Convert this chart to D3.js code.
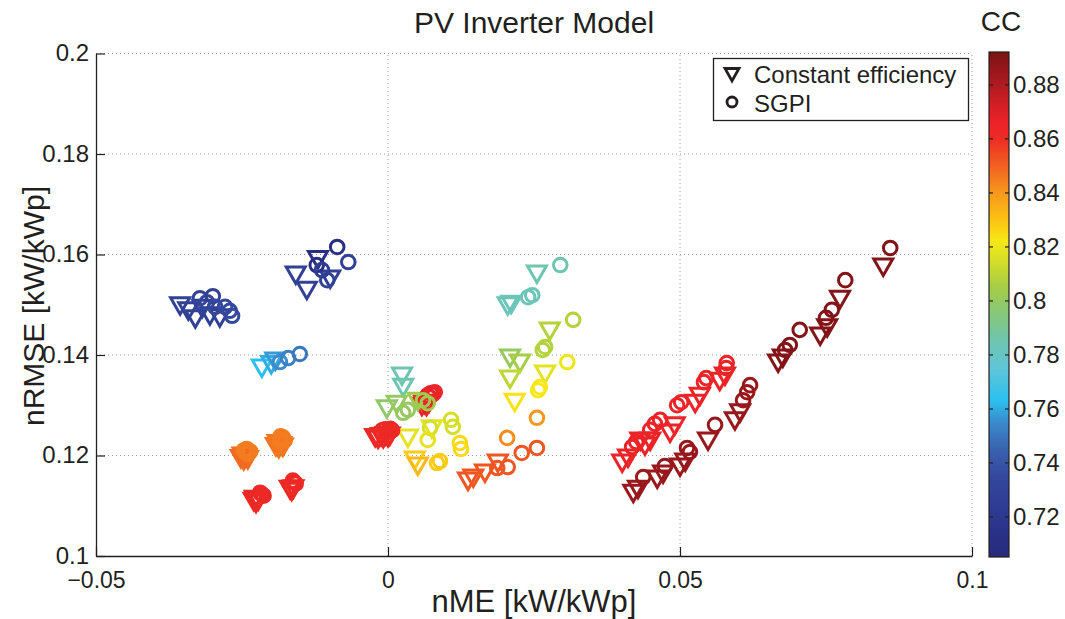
<!DOCTYPE html>
<html><head><meta charset="utf-8">
<script src="https://cdn.jsdelivr.net/npm/d3@7"></script>
<style>body{margin:0;background:#fff}text{font-family:"Liberation Sans",Arial,Helvetica,sans-serif;fill:#231f20}</style>
</head><body><svg id="c" width="1065" height="619"></svg>
<script>
// ---- data ----
const xTicks = [-0.05, 0, 0.05, 0.1];
const xTickLabels = ["\u22120.05", "0", "0.05", "0.1"];
const yTicks = [0.1, 0.12, 0.14, 0.16, 0.18, 0.2];
const yTickLabels = ["0.1", "0.12", "0.14", "0.16", "0.18", "0.2"];
const ccTicks = [0.72, 0.74, 0.76, 0.78, 0.8, 0.82, 0.84, 0.86, 0.88];
const ccTickLabels = ["0.72", "0.74", "0.76", "0.78", "0.8", "0.82", "0.84", "0.86", "0.88"];
const ccDomain = [0.705, 0.892];

// Constant efficiency (triangles)
const ceX = [-0.0356,-0.0342,-0.0330,-0.0318,-0.0305,-0.0288,
  -0.0158,-0.0139,-0.0120,-0.0099,
  -0.0216,-0.0200,-0.0193,
  -0.0252,-0.0247,-0.0243,-0.0249,-0.0240,-0.0192,-0.0187,-0.0183,-0.0189,-0.0180,
  -0.0230,-0.0226,-0.0222,-0.0228,-0.0168,-0.0165,-0.0162,
  -0.0022,-0.0017,-0.0012,-0.0008,-0.0004,0.0000,0.0003,0.0058,0.0062,0.0066,0.0070,
  0.0024,0.0026,
  -0.0002,0.0015,0.0051,
  0.0034,0.0075,0.0046,0.0051,
  0.0137,0.0146,0.0166,0.0188,
  0.0255,0.0205,0.0211,0.0277,0.0209,0.0226,0.0209,0.0269,0.0217,
  0.0401,0.0411,0.0432,0.0440,0.0449,0.0483,0.0491,0.0526,0.0534,0.0568,0.0577,
  0.0420,0.0428,0.0461,0.0471,0.0500,0.0509,0.0548,0.0594,0.0603,
  0.0668,0.0676,0.0740,0.0752,0.0774,0.0848];
const ceY = [0.1500,0.1490,0.1474,0.1495,0.1480,0.1476,
  0.1561,0.1531,0.1592,0.1553,
  0.1376,0.1383,0.1390,
  0.1196,0.1192,0.1198,0.1201,0.1194,0.1220,0.1216,0.1222,0.1226,0.1219,
  0.1111,0.1107,0.1112,0.1115,0.1135,0.1131,0.1136,
  0.1238,0.1235,0.1240,0.1236,0.1242,0.1238,0.1241,0.1300,0.1304,0.1300,0.1306,
  0.1360,0.1338,
  0.1295,0.1304,0.1310,
  0.1237,0.1255,0.1193,0.1181,
  0.1151,0.1157,0.1167,0.1187,
  0.1563,0.1500,0.1503,0.1450,0.1396,0.1386,0.1354,0.1364,0.1308,
  0.1187,0.1197,0.1231,0.1221,0.1231,0.1247,0.1261,0.1306,0.1320,0.1350,0.1360,
  0.1127,0.1135,0.1155,0.1165,0.1179,0.1189,0.1231,0.1271,0.1287,
  0.1386,0.1396,0.1440,0.1456,0.1513,0.1577];
const ceCC = [0.728,0.728,0.728,0.728,0.728,0.728,
  0.728,0.728,0.712,0.728,
  0.763,0.760,0.757,
  0.848,0.848,0.848,0.848,0.848,0.846,0.846,0.846,0.846,0.846,
  0.862,0.862,0.862,0.862,0.862,0.862,0.862,
  0.862,0.862,0.862,0.862,0.862,0.862,0.862,0.865,0.865,0.865,0.865,
  0.785,0.785,
  0.798,0.800,0.803,
  0.818,0.818,0.828,0.832,
  0.852,0.852,0.852,0.852,
  0.785,0.783,0.783,0.808,0.800,0.805,0.810,0.818,0.823,
  0.865,0.865,0.865,0.865,0.865,0.865,0.865,0.865,0.865,0.865,0.865,
  0.885,0.885,0.885,0.885,0.885,0.885,0.885,0.885,0.885,
  0.890,0.890,0.890,0.890,0.890,0.890];

// SGPI (circles)
const sgX = [-0.0322,-0.0310,-0.0300,-0.0296,-0.0279,-0.0271,-0.0267,
  -0.0087,-0.0068,-0.0122,-0.0104,-0.0113,
  -0.0185,-0.0171,-0.0151,
  -0.0244,-0.0240,-0.0247,-0.0236,-0.0242,-0.0182,-0.0185,-0.0180,-0.0177,-0.0184,
  -0.0216,-0.0213,-0.0219,-0.0161,-0.0158,-0.0163,
  -0.0010,-0.0005,0.0000,0.0004,0.0007,0.0068,0.0073,0.0077,0.0080,0.0071,
  0.0026,0.0034,0.0060,0.0068,
  0.0072,0.0068,0.0108,0.0111,0.0123,0.0125,0.0089,0.0084,
  0.0187,0.0205,0.0229,0.0255,0.0204,0.0255,
  0.0295,0.0240,0.0247,0.0317,0.0265,0.0269,0.0307,0.0257,0.0260,
  0.0418,0.0425,0.0449,0.0457,0.0466,0.0495,0.0502,0.0541,0.0545,0.0580,0.0579,
  0.0437,0.0474,0.0512,0.0517,0.0560,0.0608,0.0615,0.0620,
  0.0680,0.0688,0.0705,0.0750,0.0760,0.0783,0.0860];
const sgY = [0.1513,0.1505,0.1517,0.1496,0.1496,0.1488,0.1478,
  0.1615,0.1585,0.1579,0.1549,0.1569,
  0.1386,0.1394,0.1402,
  0.1206,0.1203,0.1210,0.1208,0.1213,0.1232,0.1228,0.1236,0.1230,0.1238,
  0.1123,0.1120,0.1126,0.1147,0.1144,0.1150,
  0.1250,0.1252,0.1249,0.1253,0.1250,0.1320,0.1324,0.1322,0.1326,0.1316,
  0.1285,0.1291,0.1310,0.1304,
  0.1255,0.1231,0.1271,0.1257,0.1225,0.1213,0.1189,0.1185,
  0.1175,0.1177,0.1205,0.1215,0.1235,0.1275,
  0.1579,0.1515,0.1519,0.1470,0.1410,0.1416,0.1386,0.1330,0.1336,
  0.1217,0.1227,0.1251,0.1263,0.1271,0.1300,0.1306,0.1346,0.1354,0.1384,0.1374,
  0.1157,0.1179,0.1215,0.1207,0.1261,0.1310,0.1326,0.1340,
  0.1410,0.1420,0.1450,0.1474,0.1490,0.1549,0.1613];
const sgCC = [0.730,0.733,0.728,0.735,0.735,0.735,0.735,
  0.712,0.728,0.712,0.730,0.725,
  0.755,0.752,0.750,
  0.845,0.845,0.845,0.845,0.845,0.845,0.845,0.845,0.845,0.845,
  0.862,0.862,0.862,0.862,0.862,0.862,
  0.862,0.862,0.862,0.862,0.862,0.865,0.865,0.865,0.865,0.865,
  0.800,0.800,0.803,0.803,
  0.815,0.818,0.815,0.815,0.825,0.825,0.828,0.828,
  0.852,0.852,0.852,0.852,0.842,0.840,
  0.785,0.783,0.783,0.808,0.808,0.808,0.820,0.822,0.822,
  0.865,0.865,0.865,0.865,0.865,0.865,0.865,0.865,0.865,0.865,0.865,
  0.885,0.885,0.885,0.885,0.885,0.885,0.885,0.885,
  0.890,0.890,0.890,0.890,0.890,0.890,0.890];

// colormap stops (value -> colour)
const cmapVals = [0.705,0.72,0.735,0.745,0.755,0.763,0.775,0.785,0.795,0.805,0.815,0.822,0.83,0.84,0.85,0.86,0.866,0.875,0.892];
const cmapCols = ["#25297a","#2d388f","#34489d","#3963ae","#3a8ccd","#2cc0ef","#5fc5d6","#6ec5b0","#86c77a","#a6cd45","#d6df27","#f7e816","#fbc213","#f7971d","#f16022","#ed2c24","#ec2227","#c61e24","#7a1315"];

// ---- drawing ----
const svg = d3.select("#c");
const L = 96, R = 972, T = 53.5, B = 556;
const x = d3.scaleLinear().domain([-0.05, 0.1]).range([L, R]);
const y = d3.scaleLinear().domain([0.1, 0.2]).range([B, T]);
const color = d3.scaleLinear().domain(cmapVals).range(cmapCols).clamp(true);

// grid
const grid = svg.append("g").attr("stroke", "#9a9a9a").attr("stroke-width", 1).attr("stroke-dasharray", "1,3");
xTicks.slice(1).forEach(v => grid.append("line").attr("x1", x(v)).attr("x2", x(v)).attr("y1", B).attr("y2", T));
yTicks.slice(1).forEach(v => grid.append("line").attr("x1", L).attr("x2", R).attr("y1", y(v)).attr("y2", y(v)));

// axes
const xAxis = d3.axisBottom(x).tickValues(xTicks).tickFormat((d, i) => xTickLabels[i]).tickSizeInner(-9).tickSizeOuter(0).tickPadding(16);
const yAxis = d3.axisLeft(y).tickValues(yTicks).tickFormat((d, i) => yTickLabels[i]).tickSizeInner(-9).tickSizeOuter(0).tickPadding(16);
const gx = svg.append("g").attr("transform", `translate(0,${B})`).call(xAxis);
const gy = svg.append("g").attr("transform", `translate(${L},0)`).call(yAxis);
[gx, gy].forEach(g => {
  g.selectAll("path.domain").attr("stroke", "#231f20").attr("stroke-width", 1.3);
  g.selectAll(".tick line").attr("stroke", "#231f20").attr("stroke-width", 1.2);
  g.selectAll(".tick text").style("font-size", "24px").attr("fill", "#231f20");
});
gx.selectAll(".tick text").style("font-size", "23px").attr("dy", "0.75em").attr("y", 15);
gy.selectAll(".tick text").attr("x", -7).attr("dy", "0.3em");

// markers
const triPath = "M-9.5,-7L9.5,-7L0,9.5Z";
const pts = svg.append("g").attr("fill", "none").attr("stroke-width", 3);
pts.selectAll("path.ce").data(d3.range(ceX.length)).join("path")
  .attr("class", "ce").attr("d", triPath)
  .attr("transform", i => `translate(${x(ceX[i])},${y(ceY[i])})`)
  .attr("stroke", i => color(ceCC[i])).attr("stroke-linejoin", "miter");
pts.selectAll("circle.sg").data(d3.range(sgX.length)).join("circle")
  .attr("class", "sg").attr("r", 6.8)
  .attr("cx", i => x(sgX[i])).attr("cy", i => y(sgY[i]))
  .attr("stroke", i => color(sgCC[i]));

// title & labels
svg.append("text").attr("x", 534).attr("y", 33).attr("text-anchor", "middle").style("font-size", "30px").text("PV Inverter Model");
svg.append("text").attr("x", 534).attr("y", 612).attr("text-anchor", "middle").style("font-size", "31px").text("nME [kW/kWp]");
svg.append("text").attr("transform", "translate(44,306) rotate(-90)").attr("text-anchor", "middle").style("font-size", "30px").text("nRMSE [kW/kWp]");

// legend
const lg = svg.append("g");
lg.append("rect").attr("x", 713.5).attr("y", 58.5).attr("width", 255).attr("height", 62).attr("fill", "#fff").attr("stroke", "#231f20").attr("stroke-width", 1.3);
lg.append("path").attr("d", "M-7,-5.5L7,-5.5L0,7Z").attr("transform", "translate(732,74)").attr("fill", "none").attr("stroke", "#231f20").attr("stroke-width", 2.8);
lg.append("circle").attr("cx", 732).attr("cy", 102).attr("r", 5).attr("fill", "none").attr("stroke", "#231f20").attr("stroke-width", 2.8);
lg.append("text").attr("x", 754).attr("y", 83).style("font-size", "24px").text("Constant efficiency");
lg.append("text").attr("x", 754).attr("y", 112).style("font-size", "24px").text("SGPI");

// colorbar
const cbL = 989, cbW = 20, cbT = 52, cbB = 557;
const cy = d3.scaleLinear().domain(ccDomain).range([cbB, cbT]);
const defs = svg.append("defs");
const grad = defs.append("linearGradient").attr("id", "cb").attr("x1", 0).attr("y1", 1).attr("x2", 0).attr("y2", 0);
cmapVals.forEach((v, i) => grad.append("stop").attr("offset", (v - ccDomain[0]) / (ccDomain[1] - ccDomain[0])).attr("stop-color", cmapCols[i]));
svg.append("rect").attr("x", cbL).attr("y", cbT).attr("width", cbW).attr("height", cbB - cbT).attr("fill", "url(#cb)").attr("stroke", "#231f20").attr("stroke-width", 1.2);
const cbAxis = d3.axisRight(cy).tickValues(ccTicks).tickFormat((d, i) => ccTickLabels[i]).tickSizeInner(-4).tickSizeOuter(0).tickPadding(8);
const gc = svg.append("g").attr("transform", `translate(${cbL + cbW},0)`).call(cbAxis);
gc.select("path.domain").remove();
gc.selectAll(".tick line").attr("stroke", "#231f20").attr("stroke-width", 1.2);
gc.selectAll(".tick text").style("font-size", "24px").attr("fill", "#231f20").attr("x", 4);
gc.selectAll(".tick").append("line").attr("x1", -cbW).attr("x2", -cbW + 4).attr("stroke", "#231f20").attr("stroke-width", 1.2);
svg.append("text").attr("x", 1001).attr("y", 31).attr("text-anchor", "middle").style("font-size", "28px").text("CC");
</script></body></html>
